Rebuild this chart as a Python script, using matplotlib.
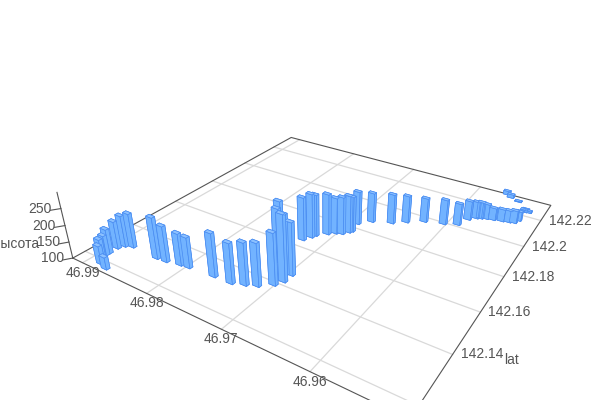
import numpy as np
import matplotlib
matplotlib.use("Agg")
import matplotlib.pyplot as plt
from mpl_toolkits.mplot3d import proj3d

plt.rcParams["font.family"] = ["Liberation Sans", "DejaVu Sans"]

lon_off = [0.0871, 0.0883, 0.0893, 0.0893, 0.0893, 0.0893, 0.0889, 0.088, 0.084, 0.0827, 0.0809, 0.0798, 0.0764,
           0.0741, 0.0727, 0.0715, 0.0702, 0.0697, 0.0703, 0.0697, 0.0723, 0.0729, 0.0727, 0.0722, 0.072, 0.071,
           0.0703, 0.0696, 0.0691, 0.0689, 0.0692, 0.068, 0.0658, 0.0644, 0.0626, 0.0604, 0.0589, 0.0583, 0.0576,
           0.0571, 0.0565, 0.0557, 0.0547, 0.0539, 0.0533, 0.053, 0.053, 0.0563, 0.0556, 0.0544, 0.0529, 0.0525]
lon = 46.9 + np.array(lon_off)
lat = np.array([142.1174, 142.1184, 142.1209, 142.1226, 142.1239, 142.1272, 142.1293, 142.1304, 142.13, 142.1303,
                142.1314, 142.1318, 142.1325, 142.1327, 142.1343, 142.1359, 142.139, 142.1419, 142.145, 142.1459,
                142.1493, 142.1526, 142.1642, 142.1671, 142.1688, 142.1718, 142.1737, 142.1746, 142.1767, 142.1778,
                142.1832, 142.1872, 142.1901, 142.1935, 142.1973, 142.1995, 142.2017, 142.2071, 142.2095, 142.2103,
                142.2111, 142.2117, 142.2125, 142.2131, 142.2137, 142.2161, 142.2233, 142.2331, 142.2314, 142.2297,
                142.2244, 142.2236])
height = np.array([137, 156, 156, 160, 174, 184, 196, 205, 226, 209, 197, 193, 230, 220, 226, 228, 253, 296, 278,
                   257, 262, 266, 234, 237, 230, 227, 213, 217, 217, 211, 205, 194, 194, 186, 177, 179, 169, 161,
                   154, 153, 148, 139, 139, 138, 140, 130, 107, 112, 111, 102, 105, 105], dtype=float)

lon_ticks = [46.99, 46.98, 46.97, 46.96]
lat_ticks = [142.14, 142.16, 142.18, 142.2, 142.22]
lat_grid = [142.12] + lat_ticks
height_ticks = [100, 150, 200, 250]

LON_HI, LON_LO = 46.99166, 46.95057
LAT_LO, LAT_HI = 142.11532, 142.23314
H_LO, H_HI = 100, 296.08
SCALE, CX, CY = 2649.563, 330.105, 199.561
TEXT = "#555555"
AXIS = "#555555"
GRID = "#d9d9d9"
BAR_W, BAR_D = 0.00085, 0.0013

fig = plt.figure(figsize=(6, 4), dpi=100)
ax = fig.add_subplot(projection="3d", computed_zorder=False)
ax.set_axis_off()

face = ["#72b3ff"] * 6
face[1] = "#8cc1ff"
colors = face * len(lon)
bars = ax.bar3d(lon - BAR_W / 2, lat - BAR_D / 2, np.full(len(lon), H_LO), BAR_W, BAR_D, height - H_LO,
                color=colors, edgecolor="#4a8df2", linewidth=0.5, shade=False, zorder=3)
bars.set_clip_on(False)

ax.set_autoscale_on(False)
ax.set_xlim(LON_HI, LON_LO)
ax.set_ylim(LAT_LO, LAT_HI)
ax.set_zlim(H_LO, H_HI)
ax.view_init(elev=28.55409, azim=-57.45487, roll=-0.24677)
ax.set_proj_type("persp", focal_length=0.22758)
ax.set_box_aspect((1.0926, 1.08995, 0.21776))

for v in lon_ticks:
    ax.plot([v, v], [LAT_LO, LAT_HI], [H_LO, H_LO], color=GRID, lw=0.9, zorder=1, clip_on=False)
for v in lat_grid:
    ax.plot([LON_HI, LON_LO], [v, v], [H_LO, H_LO], color=GRID, lw=0.9, zorder=1, clip_on=False)

edge_x = [LON_HI, LON_HI, LON_LO, LON_LO, LON_HI]
edge_y = [LAT_LO, LAT_HI, LAT_HI, LAT_LO, LAT_LO]
ax.plot(edge_x, edge_y, [H_LO] * 5, color=AXIS, lw=0.8, zorder=2, clip_on=False)
ax.plot([LON_HI, LON_HI], [LAT_LO, LAT_LO], [H_LO, H_HI], color=AXIS, lw=0.8, zorder=2, clip_on=False)
for v in height_ticks:
    ax.plot([LON_HI, LON_HI + 0.0006], [LAT_LO, LAT_LO - 0.0024], [v, v], color=AXIS, lw=0.8, zorder=2, clip_on=False)

# size the axes so the projected origin lands where the camera fit puts it
ax.set_position([0, 0, 1, 1.5])
ax.apply_aspect()
a, b = ax.transData.transform([(0, 0), (1, 1)])
side = 600 * SCALE / (b[0] - a[0])
ax.set_position([0, 0, side / 600, side / 400])
ax.apply_aspect()
a = ax.transData.transform((0, 0))
ax.set_position([(CX - a[0]) / 600, (400 - CY - a[1]) / 400, side / 600, side / 400])
M = ax.get_proj()


def label(x, y, z, s, dx, dy, ha):
    px, py, _ = proj3d.proj_transform(x, y, z, M)
    ax.annotate(s, xy=(px, py), xycoords="data", xytext=(dx, dy), textcoords="offset pixels",
                ha=ha, va="center", color=TEXT, fontsize=10, annotation_clip=False, zorder=4)


for v in lon_ticks:
    label(v, LAT_LO, H_LO, f"{v:g}", 0, -10, "center")
for v in lat_ticks:
    label(LON_LO, v, H_LO, f"{v:g}", 8, 0, "left")
for v in height_ticks:
    label(LON_HI, LAT_LO, v, f"{v:g}", -9, 0, "right")
label(LON_HI, LAT_LO, 197, "высота", -26, -17, "right")
label(LON_LO, 142.14, H_LO, "lat", 52, -6, "left")

fig.savefig("out.png", dpi=100)
